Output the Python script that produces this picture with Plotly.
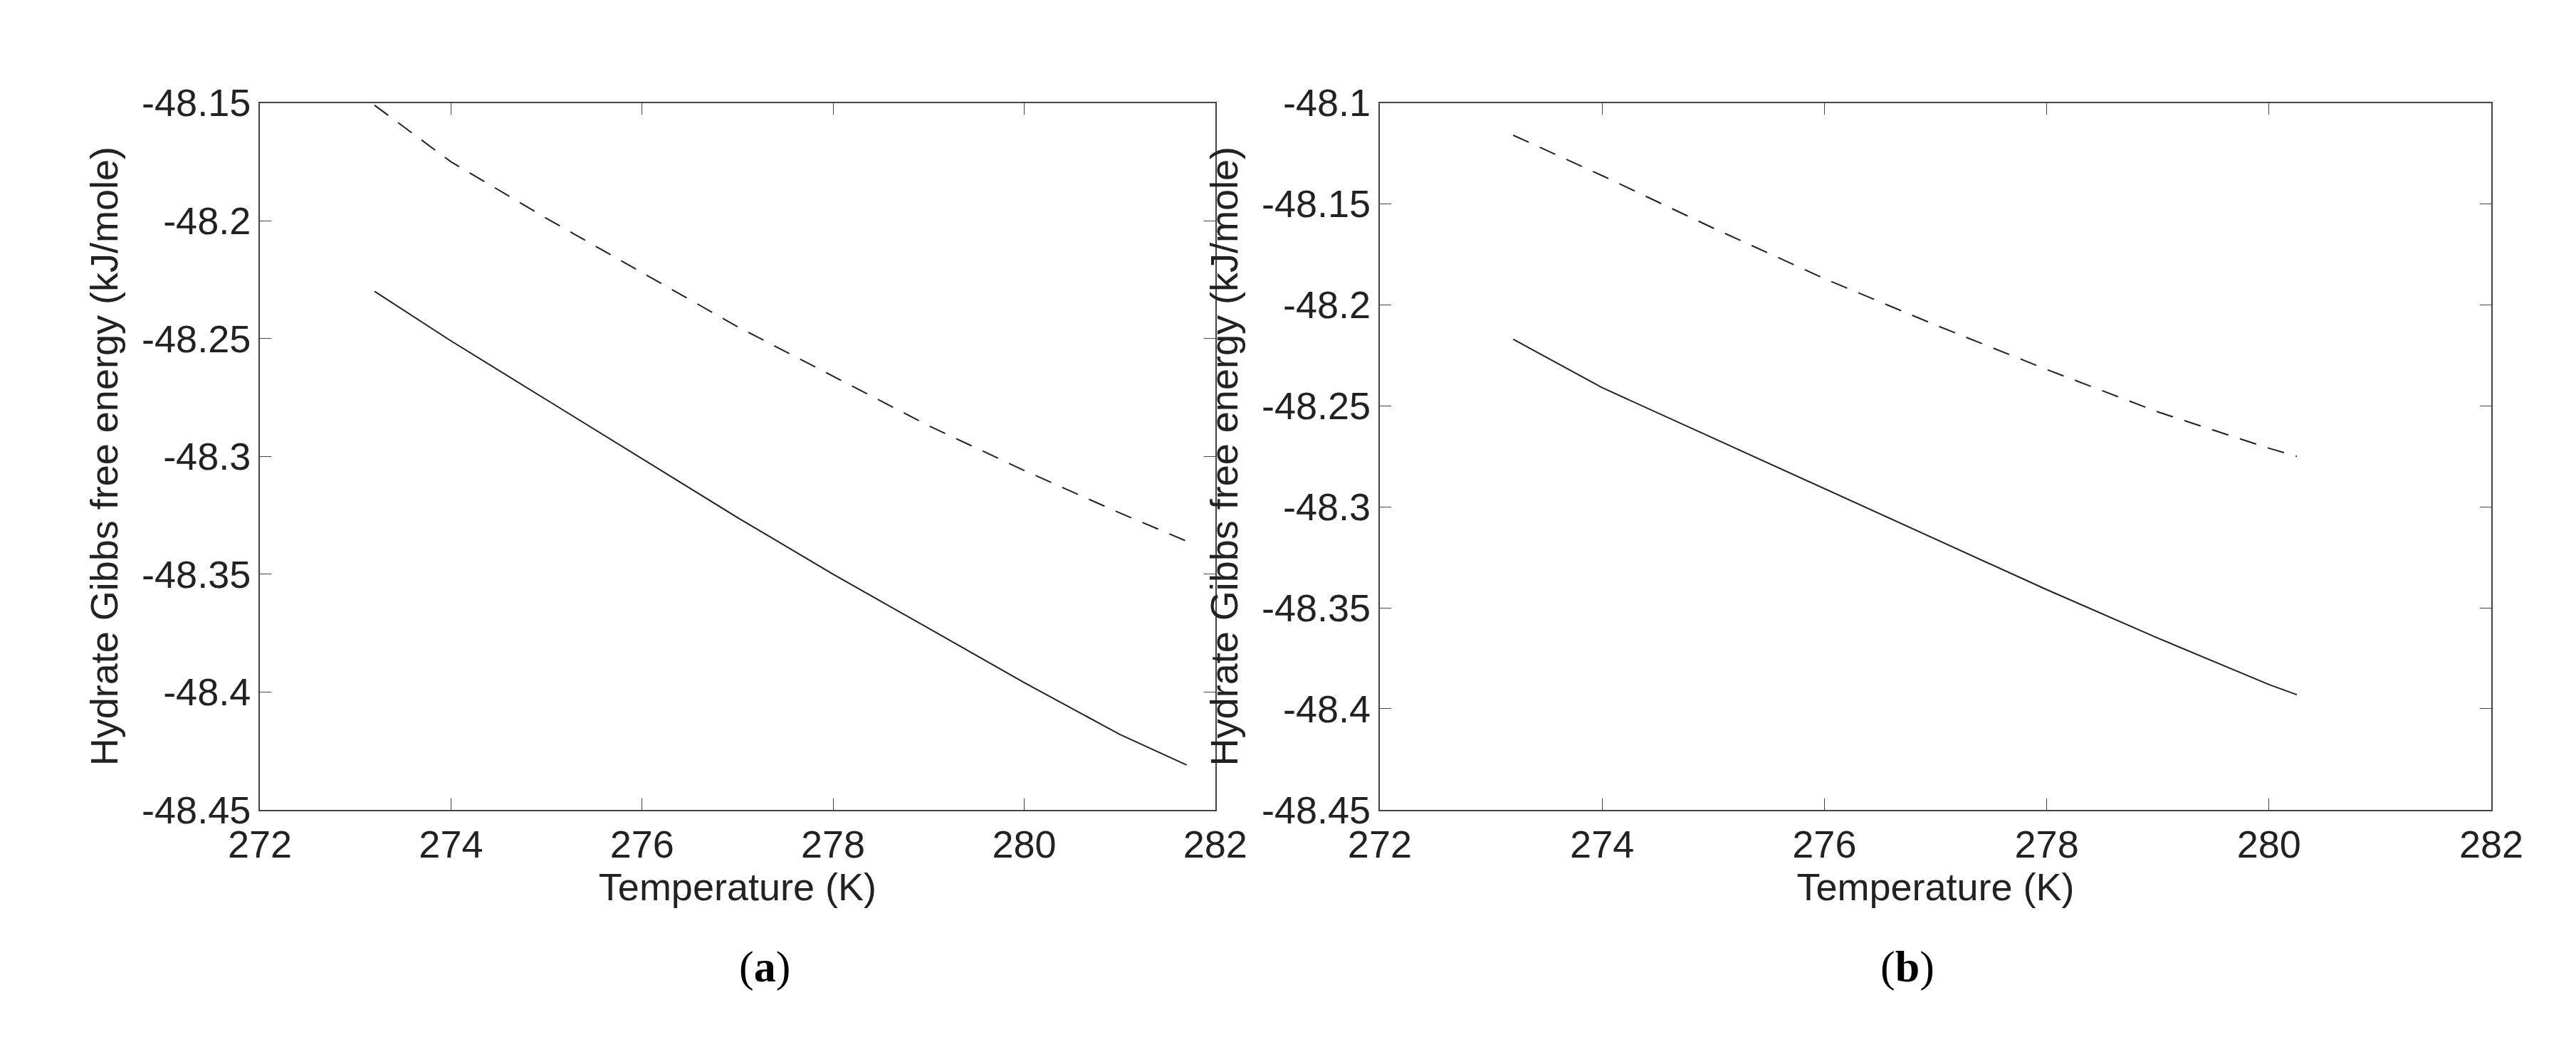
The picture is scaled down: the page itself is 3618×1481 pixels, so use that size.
import plotly.graph_objects as go
from plotly.subplots import make_subplots

T_a = [273.2, 274, 275, 276, 277, 278, 279, 280, 281, 281.7]
solid_a = [-48.230, -48.251, -48.276, -48.301, -48.326, -48.350, -48.373, -48.396, -48.418, -48.431]
dash_a = [-48.151, -48.175, -48.199, -48.222, -48.245, -48.266, -48.287, -48.306, -48.324, -48.336]
T_b = [273.2, 274, 275, 276, 277, 278, 279, 280, 280.25]
solid_b = [-48.217, -48.241, -48.266, -48.291, -48.316, -48.341, -48.365, -48.388, -48.393]
dash_b = [-48.116, -48.136, -48.162, -48.187, -48.210, -48.232, -48.253, -48.271, -48.275]
xticks = [272, 274, 276, 278, 280, 282]
yticks_a = [-48.45, -48.4, -48.35, -48.3, -48.25, -48.2, -48.15]
yticks_b = [-48.45, -48.4, -48.35, -48.3, -48.25, -48.2, -48.15, -48.1]

fig = make_subplots(rows=1, cols=2)
dash = "24px,17px"
fig.add_trace(go.Scatter(x=T_a, y=solid_a, mode="lines", line=dict(color="#222", width=2)), 1, 1)
fig.add_trace(go.Scatter(x=T_a, y=dash_a, mode="lines", line=dict(color="#222", width=2, dash=dash)), 1, 1)
fig.add_trace(go.Scatter(x=T_b, y=solid_b, mode="lines", line=dict(color="#222", width=2)), 1, 2)
fig.add_trace(go.Scatter(x=T_b, y=dash_b, mode="lines", line=dict(color="#222", width=2, dash=dash)), 1, 2)

W, H = 3618, 1481
fnt = dict(family="Liberation Sans", size=54, color="#222")
ax_common = dict(showline=True, linecolor="#444", linewidth=2, mirror="ticks", ticks="inside",
                 ticklen=16, tickcolor="#444", showgrid=False, zeroline=False, tickfont=fnt)
def lab(v):
    return f"{v:g}".replace("\u2212", "-")
fig.update_xaxes(**ax_common, range=[272, 282], tickvals=xticks, ticktext=[lab(v) for v in xticks],
                 title=dict(text="Temperature (K)", font=fnt, standoff=12))
fig.update_yaxes(**ax_common, title=dict(text="Hydrate Gibbs free energy (kJ/mole)", font=fnt, standoff=16))
fig.update_xaxes(domain=[320/W, 1696/W], row=1, col=1)
fig.update_xaxes(domain=[1933/W, 3534/W], row=1, col=2)
top, bot = 1 - 0.075, 1 - 0.774
fig.update_yaxes(domain=[bot, top], row=1, col=1, range=[-48.45, -48.15],
                 tickvals=yticks_a, ticktext=[lab(v) for v in yticks_a])
fig.update_yaxes(domain=[bot, top], row=1, col=2, range=[-48.45, -48.1],
                 tickvals=yticks_b, ticktext=[lab(v) for v in yticks_b])

for x, t in [((320 + 1696) / 2 / W, "a"), ((1933 + 3534) / 2 / W, "b")]:
    fig.add_annotation(x=x, y=0.045, xref="paper", yref="paper", showarrow=False,
                       text=f"(<b>{t}</b>)", font=dict(family="Liberation Serif", size=62, color="black"))

fig.update_layout(width=W, height=H, margin=dict(l=0, r=0, t=0, b=0), showlegend=False,
                  plot_bgcolor="white", paper_bgcolor="white")
fig.write_html("out.html")
